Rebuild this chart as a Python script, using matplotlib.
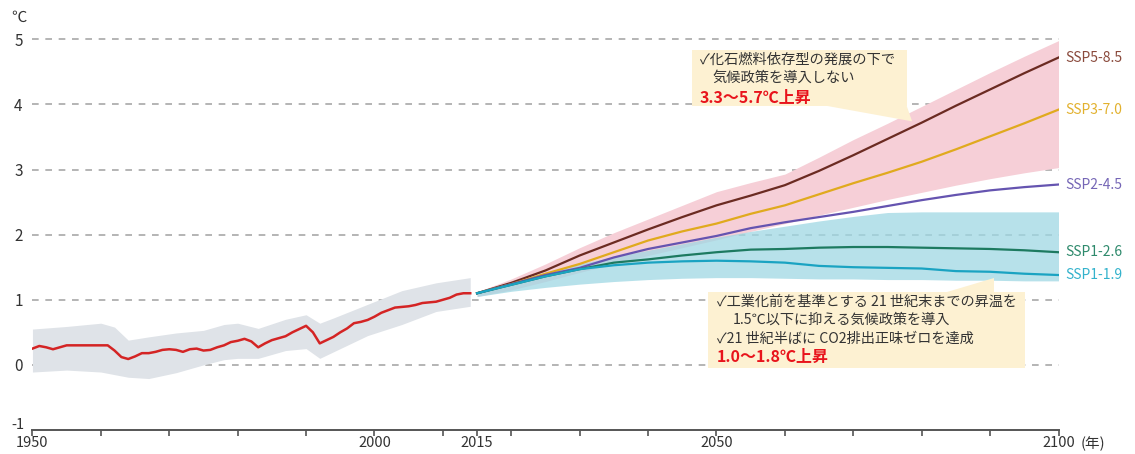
"""
Global surface temperature change: observed (1950-2014) and SSP projections (2015-2100)
"""
import matplotlib
matplotlib.use('Agg')
import matplotlib.pyplot as plt
from matplotlib.patches import Polygon, Rectangle

plt.rcParams['font.family'] = ['Noto Sans CJK JP', 'DejaVu Sans']

# Observed / historical
hist_years = list(range(1950, 2015))
hist_vals = [0.25, 0.29, 0.27, 0.24, 0.27, 0.30, 0.30, 0.30, 0.30, 0.30,
             0.30, 0.30, 0.22, 0.12, 0.09, 0.13, 0.18, 0.18, 0.20, 0.23,
             0.24, 0.23, 0.20, 0.24, 0.25, 0.22, 0.23, 0.27, 0.30, 0.35,
             0.37, 0.40, 0.36, 0.27, 0.33, 0.38, 0.41, 0.44, 0.50, 0.55,
             0.60, 0.50, 0.33, 0.38, 0.43, 0.50, 0.56, 0.64, 0.66, 0.69,
             0.74, 0.80, 0.84, 0.88, 0.89, 0.90, 0.92, 0.95, 0.96, 0.97,
             1.00, 1.03, 1.08, 1.10, 1.10]
band_years = [1950, 1955, 1960, 1962, 1964, 1967, 1971, 1975, 1978, 1980,
              1983, 1987, 1990, 1992, 1994, 1999, 2004, 2009, 2014]
band_hi = [0.55, 0.59, 0.64, 0.58, 0.38, 0.43, 0.49, 0.53, 0.62, 0.64,
           0.56, 0.70, 0.77, 0.64, 0.72, 0.93, 1.14, 1.26, 1.34]
band_lo = [-0.11, -0.08, -0.11, -0.15, -0.19, -0.21, -0.12, 0.00, 0.08, 0.10,
           0.10, 0.22, 0.25, 0.10, 0.20, 0.45, 0.62, 0.82, 0.90]

# Projections (5-year steps)
proj_years = list(range(2015, 2101, 5))
ssp585 = [1.10, 1.26, 1.45, 1.68, 1.88, 2.08, 2.27, 2.45, 2.60, 2.76, 2.98, 3.22, 3.47, 3.72, 3.98, 4.23, 4.48, 4.72]
ssp370 = [1.10, 1.24, 1.40, 1.55, 1.73, 1.91, 2.05, 2.17, 2.32, 2.45, 2.62, 2.79, 2.95, 3.12, 3.31, 3.51, 3.71, 3.92]
ssp245 = [1.10, 1.24, 1.38, 1.49, 1.65, 1.78, 1.88, 1.98, 2.10, 2.19, 2.27, 2.35, 2.44, 2.53, 2.61, 2.68, 2.73, 2.77]
ssp126 = [1.10, 1.23, 1.36, 1.47, 1.57, 1.62, 1.68, 1.73, 1.77, 1.78, 1.80, 1.81, 1.81, 1.80, 1.79, 1.78, 1.76, 1.73]
ssp119 = [1.10, 1.23, 1.36, 1.47, 1.53, 1.57, 1.59, 1.60, 1.59, 1.57, 1.52, 1.50, 1.49, 1.48, 1.44, 1.43, 1.40, 1.38]
pink_hi = [1.12, 1.32, 1.55, 1.80, 2.03, 2.24, 2.45, 2.66, 2.80, 2.93, 3.19, 3.46, 3.71, 3.97, 4.23, 4.49, 4.74, 4.98]
pink_lo = [1.05, 1.15, 1.28, 1.42, 1.55, 1.68, 1.80, 1.92, 2.05, 2.17, 2.30, 2.42, 2.54, 2.65, 2.76, 2.86, 2.95, 3.03]
cyan_hi = [1.12, 1.28, 1.42, 1.55, 1.66, 1.76, 1.86, 1.96, 2.05, 2.13, 2.21, 2.28, 2.34, 2.35, 2.35, 2.35, 2.35, 2.35]
cyan_lo = [1.05, 1.13, 1.19, 1.24, 1.28, 1.31, 1.33, 1.34, 1.34, 1.33, 1.32, 1.32, 1.31, 1.31, 1.30, 1.30, 1.29, 1.29]

ssp_names = ['SSP5-8.5', 'SSP3-7.0', 'SSP2-4.5', 'SSP1-2.6', 'SSP1-1.9']
ssp_series = [ssp585, ssp370, ssp245, ssp126, ssp119]
ssp_colors = ['#6b2b22', '#e0aa1e', '#6554b0', '#1d7a60', '#1aa3c2']
label_colors = ['#8a4a3c', '#e2b12e', '#7566b6', '#2e8a6c', '#33b2cc']

y_ticks = [0, 1, 2, 3, 4, 5]
x_ticks = [1950, 1960, 1970, 1980, 1990, 2000, 2010, 2015, 2020, 2030, 2040,
           2050, 2060, 2070, 2080, 2090, 2100]
x_labels = {1950: '1950', 2000: '2000', 2015: '2015', 2050: '2050', 2100: '2100'}

fig = plt.figure(figsize=(11.35, 4.54), dpi=100)
ax = fig.add_axes([0.0286, 0.0529, 0.9040, 0.8605])
ax.set_xlim(1950, 2100)
ax.set_ylim(-1, 5)

# dashed grid lines
for v in y_ticks:
    ax.plot([1950, 2100], [v, v], color='#a8a8a8', lw=1.2,
            dashes=(4, 4), zorder=1, clip_on=False)

# historical band and line
ax.fill_between(band_years, band_lo, band_hi, color='#dfe3e8', lw=0, zorder=2)
ax.plot(hist_years, hist_vals, color='#d42424', lw=1.8, zorder=5)

# projection bands
ax.fill_between(proj_years, pink_lo, pink_hi, color='#f6cfd7', lw=0, zorder=2)
ax.fill_between(proj_years, cyan_lo, cyan_hi, color='#9fd8e4', alpha=0.75, lw=0, zorder=3)

for name, vals, c, lc in zip(ssp_names, ssp_series, ssp_colors, label_colors):
    ax.plot(proj_years, vals, color=c, lw=1.6, zorder=5)
    ax.text(2101, vals[-1], name, color=lc, fontsize=10, va='center', ha='left',
            clip_on=False)

# axes styling
for s in ['top', 'right', 'left']:
    ax.spines[s].set_visible(False)
ax.spines['bottom'].set_color('#555555')
ax.spines['bottom'].set_linewidth(1.4)
ax.set_xticks(x_ticks)
ax.set_xticklabels([x_labels.get(t, '') for t in x_ticks], fontsize=10.5, color='#333333')
ax.tick_params(axis='x', direction='out', length=4, width=1.2, color='#555555', pad=0.5)
ax.set_yticks(y_ticks)
ax.set_yticklabels([str(t) for t in y_ticks], fontsize=11, color='#333333')
ax.tick_params(axis='y', length=0, pad=7)
# -1 sits on the axis line, nudged up to clear the 1950 label
ax.text(-0.0075, -0.93, '-1', transform=ax.get_yaxis_transform(), fontsize=10.5,
        color='#333333', ha='right', va='center')

ax.text(-0.013, 1.055, '℃', transform=ax.transAxes, fontsize=11, color='#333333',
        ha='center', va='center')
ax.text(2103.3, -1.096, '(年)', fontsize=10.5, color='#333333', ha='left', va='top',
        clip_on=False)

# callout 1
box_c = '#fdf1d2'
ax.add_patch(Rectangle((2046.4, 3.98), 31.4, 0.86, facecolor=box_c, edgecolor='none',
                       zorder=6, clip_on=False))
ax.add_patch(Polygon([(2066, 3.98), (2077.8, 3.98), (2078.6, 3.74)], closed=True,
                     facecolor=box_c, edgecolor='none', zorder=6, clip_on=False))
ax.text(2047.6, 4.68, '✓化石燃料依存型の発展の下で', fontsize=10.3, color='#333333',
        va='center', ha='left', zorder=7)
ax.text(2049.4, 4.41, '気候政策を導入しない', fontsize=10.3, color='#333333',
        va='center', ha='left', zorder=7)
ax.text(2047.6, 4.10, '3.3～5.7℃上昇', fontsize=11.5, color='#e8141c', fontweight='bold',
        va='center', ha='left', zorder=7)

# callout 2
ax.add_patch(Rectangle((2048.8, -0.05), 46.3, 1.17, facecolor=box_c, edgecolor='none',
                       zorder=6, clip_on=False))
ax.add_patch(Polygon([(2083.7, 1.12), (2090.5, 1.12), (2090.5, 1.34)], closed=True,
                     facecolor=box_c, edgecolor='none', zorder=6, clip_on=False))
ax.text(2050.1, 0.97, '✓工業化前を基準とする 21 世紀末までの昇温を', fontsize=10.2,
        color='#333333', va='center', ha='left', zorder=7)
ax.text(2052.4, 0.69, '1.5℃以下に抑える気候政策を導入', fontsize=10.2,
        color='#333333', va='center', ha='left', zorder=7)
ax.text(2050.1, 0.40, '✓21 世紀半ばに CO2排出正味ゼロを達成', fontsize=10.2,
        color='#333333', va='center', ha='left', zorder=7)
ax.text(2050.1, 0.12, '1.0～1.8℃上昇', fontsize=11.5, color='#e8141c', fontweight='bold',
        va='center', ha='left', zorder=7)

plt.savefig('out.png', dpi=100)
plt.close()
